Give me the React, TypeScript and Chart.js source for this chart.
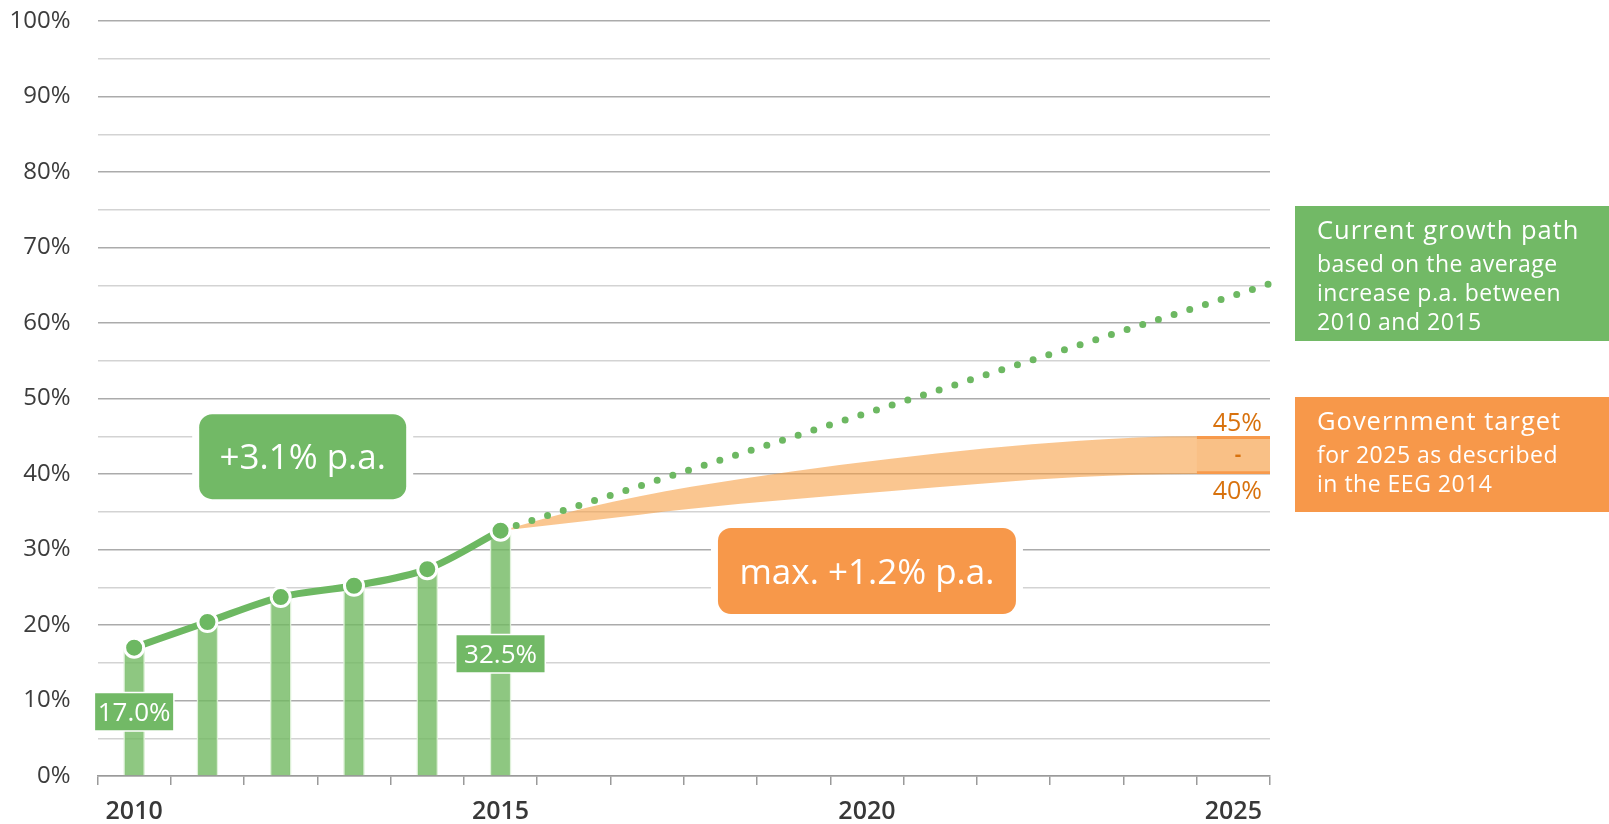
import React, { useEffect, useRef } from 'react';
import { Chart, registerables } from 'chart.js';

Chart.register(...registerables);

// ---------- data ----------
const years = ['2010', '2011', '2012', '2013', '2014', '2015', '2016', '2017', '2018', '2019', '2020', '2021', '2022', '2023', '2024', '2025'];
const shareValues = [17.0, 20.4, 23.7, 25.2, 27.4, 32.5];
const shareLabels = ['17.0%', '32.5%'];
const projectionYears = [2015, 2025.5];
const projectionValues = [32.5, 65.2];
const bandYears = [2015, 2016.2, 2017.6, 2020.3, 2022.9, 2024.5, 2025.5];
const bandUpperValues = [32.5, 35.6, 38.3, 42.0, 44.4, 45.0, 45.0];
const bandLowerValues = [32.5, 33.8, 35.4, 37.7, 39.6, 40.0, 40.0];
const targetRange = [40, 45];
const targetLabels = ['45%', '-', '40%'];
const growthText = '+3.1% p.a.';
const targetGrowthText = 'max. +1.2% p.a.';
const legendGreenLines = ['Current growth path', 'based on the average', 'increase p.a. between', '2010 and 2015'];
const legendOrangeLines = ['Government target', 'for 2025 as described', 'in the EEG 2014'];

// ---------- styles ----------
const FONT = "'Open Sans', 'DejaVu Sans', sans-serif";
const GREEN = '#6db862';
const GREEN_BOX = '#72b966';
const ORANGE = '#f7984a';
const ORANGE_TEXT = '#d8720e';

function roundRectPath(ctx: CanvasRenderingContext2D, x: number, y: number, w: number, h: number, r: number) {
  const rr = Math.min(r, w / 2, h / 2);
  ctx.beginPath();
  ctx.moveTo(x + rr, y);
  ctx.lineTo(x + w - rr, y);
  ctx.arcTo(x + w, y, x + w, y + rr, rr);
  ctx.lineTo(x + w, y + h - rr);
  ctx.arcTo(x + w, y + h, x + w - rr, y + h, rr);
  ctx.lineTo(x + rr, y + h);
  ctx.arcTo(x, y + h, x, y + h - rr, rr);
  ctx.lineTo(x, y + rr);
  ctx.arcTo(x, y, x + rr, y, rr);
  ctx.closePath();
}

// badge layout (centre in data units, size in px)
const badges = [
  { text: growthText, x: 2012.3, y: 42.3, w: 207, h: 85, r: 13, halo: 7, color: GREEN_BOX, size: 35 },
  { text: targetGrowthText, x: 2020.0, y: 27.15, w: 298, h: 86, r: 13, halo: 7, color: ORANGE, size: 35 },
  { text: shareLabels[0], x: 2010.0, y: 8.5, w: 78, h: 37, r: 0, halo: 1.5, color: GREEN_BOX, size: 26 },
  { text: shareLabels[1], x: 2015.0, y: 16.2, w: 88, h: 37, r: 0, halo: 1.5, color: GREEN_BOX, size: 26 },
];

const annotationPlugin = {
  id: 'annotations',
  afterDatasetsDraw(chart: any) {
    const { ctx, scales, chartArea } = chart;
    const x2 = scales.x2;
    const y = scales.y;
    ctx.save();
    for (const b of badges) {
      const cx = x2.getPixelForValue(b.x);
      const cy = y.getPixelForValue(b.y);
      const left = cx - b.w / 2;
      const top = cy - b.h / 2;
      ctx.fillStyle = '#ffffff';
      roundRectPath(ctx, left - b.halo, top - b.halo, b.w + 2 * b.halo, b.h + 2 * b.halo, b.r ? b.r + b.halo : 0);
      ctx.fill();
      ctx.fillStyle = b.color;
      roundRectPath(ctx, left, top, b.w, b.h, b.r);
      ctx.fill();
      ctx.fillStyle = '#ffffff';
      ctx.font = `500 ${b.size}px ${FONT}`;
      ctx.textAlign = 'center';
      ctx.textBaseline = 'alphabetic';
      ctx.fillText(b.text, cx, cy + b.size * 0.36);
    }
    // target labels
    const yTop = y.getPixelForValue(targetRange[1]);
    const yBot = y.getPixelForValue(targetRange[0]);
    const xr = chartArea.right - 8;
    ctx.fillStyle = ORANGE_TEXT;
    ctx.font = `500 25px ${FONT}`;
    ctx.textAlign = 'right';
    ctx.fillText(targetLabels[0], xr, yTop - 5);
    ctx.fillText(targetLabels[2], xr, yBot + 25);
    ctx.textAlign = 'center';
    ctx.font = `bold 20px ${FONT}`;
    ctx.fillText(targetLabels[1], xr - 24, (yTop + yBot) / 2 + 6);
    ctx.restore();
  },
  afterDraw(chart: any) {
    const { ctx, chartArea, width } = chart;
    const left = chartArea.right + 25;
    const boxW = width - left;
    const textX = left + 22;
    const drawBox = (top: number, h: number, color: string, lines: string[]) => {
      ctx.fillStyle = color;
      ctx.fillRect(left, top, boxW, h);
      ctx.fillStyle = '#ffffff';
      ctx.textAlign = 'left';
      ctx.textBaseline = 'alphabetic';
      const offs = [32.5, 66, 94.5, 123.5];
      lines.forEach((t, i) => {
        ctx.font = i === 0 ? `500 25.5px ${FONT}` : `500 23px ${FONT}`;
        (ctx as any).letterSpacing = i === 0 ? '1px' : '0.5px';
        ctx.fillText(t, textX, top + offs[i]);
      });
      (ctx as any).letterSpacing = '0px';
    };
    ctx.save();
    drawBox(206, 135, GREEN_BOX, legendGreenLines);
    drawBox(397, 115, ORANGE, legendOrangeLines);
    ctx.restore();
  },
};

export default function App() {
  const ref = useRef<HTMLCanvasElement | null>(null);

  useEffect(() => {
    if (!ref.current) return;
    const barData = years.map((_, i) => (i < shareValues.length ? shareValues[i] : null));
    const targetData = years.map((_, i) => (i === years.length - 1 ? targetRange : null));
    const projData = projectionYears.map((x, i) => ({ x, y: projectionValues[i] }));
    const upperData = bandYears.map((x, i) => ({ x, y: bandUpperValues[i] }));
    const lowerData = bandYears.map((x, i) => ({ x, y: bandLowerValues[i] }));

    const chart = new Chart(ref.current, {
      type: 'bar',
      data: {
        labels: years,
        datasets: [
          {
            type: 'line',
            data: shareValues,
            borderColor: GREEN,
            borderWidth: 7,
            pointRadius: 9.5,
            pointBackgroundColor: GREEN,
            pointBorderColor: '#ffffff',
            pointBorderWidth: 3,
            cubicInterpolationMode: 'monotone',
            fill: false,
            order: 0,
          } as any,
          {
            type: 'line',
            xAxisID: 'x2',
            data: projData,
            borderColor: GREEN,
            borderWidth: 7,
            borderDash: [0, 16.45],
            borderCapStyle: 'round',
            pointRadius: 0,
            fill: false,
            clip: 6,
            order: 1,
          } as any,
          {
            type: 'bar',
            data: targetData,
            grouped: false,
            barPercentage: 1,
            categoryPercentage: 1,
            backgroundColor: 'rgba(247,140,50,0.10)',
            borderColor: '#f79a4c',
            borderWidth: { top: 2.5, bottom: 2.5, left: 0, right: 0 },
            borderSkipped: false,
            order: 2,
          } as any,
          {
            type: 'line',
            xAxisID: 'x2',
            data: upperData,
            borderWidth: 0,
            borderColor: 'rgba(0,0,0,0)',
            pointRadius: 0,
            cubicInterpolationMode: 'monotone',
            fill: '+1',
            backgroundColor: 'rgba(246,160,70,0.6)',
            order: 3,
          } as any,
          {
            type: 'line',
            xAxisID: 'x2',
            data: lowerData,
            borderWidth: 0,
            borderColor: 'rgba(0,0,0,0)',
            pointRadius: 0,
            cubicInterpolationMode: 'monotone',
            fill: false,
            order: 4,
          } as any,
          {
            type: 'bar',
            data: barData,
            grouped: false,
            barThickness: 21,
            backgroundColor: 'rgba(114,185,98,0.8)',
            borderColor: 'rgba(220,240,214,0.9)',
            borderWidth: { left: 1.5, right: 1.5, top: 0, bottom: 0 },
            borderSkipped: false,
            order: 5,
          } as any,
        ],
      },
      options: {
        responsive: false,
        animation: false,
        devicePixelRatio: 1,
        events: [],
        layout: { padding: { top: 21, right: 339, bottom: 0, left: 0 } },
        plugins: {
          legend: { display: false },
          tooltip: { enabled: false },
        },
        scales: {
          x: {
            type: 'category',
            offset: true,
            afterFit: (s: any) => {
              s.height = 48;
            },
            grid: {
              offset: true,
              drawOnChartArea: false,
              drawTicks: true,
              tickLength: 9,
              color: '#9a9a9a',
              lineWidth: 1.5,
            },
            border: { display: true, color: '#9a9a9a', width: 1.5 },
            ticks: {
              autoSkip: false,
              maxRotation: 0,
              padding: 12,
              color: '#383838',
              font: { family: FONT, size: 25, weight: '600' },
              callback: function (this: any, value: any) {
                const l = this.getLabelForValue(value);
                return Number(l) % 5 === 0 ? l : '';
              },
            },
          },
          x2: {
            type: 'linear',
            display: false,
            offset: false,
            grid: { offset: false },
            min: 2009.5,
            max: 2025.5,
          },
          y: {
            min: 0,
            max: 100,
            afterFit: (s: any) => {
              s.width = 97.5;
              s.paddingTop = 0;
              s.paddingBottom = 0;
            },
            grid: {
              drawTicks: false,
              lineWidth: 1.5,
              color: (c: any) => (c.tick && c.tick.value % 10 === 0 ? '#ababab' : '#d3d3d3'),
            },
            border: { display: false },
            ticks: {
              stepSize: 5,
              padding: 27,
              color: '#3c3c3c',
              font: { family: FONT, size: 24, weight: '500' },
              callback: (v: any) => (Number(v) % 10 === 0 ? `${v}%` : ''),
            },
          },
        },
      } as any,
      plugins: [annotationPlugin],
    });
    return () => chart.destroy();
  }, []);

  return (
    <div style={{ position: 'fixed', left: 0, top: 0, width: '1609px', height: '824px', background: '#ffffff' }}>
      <canvas ref={ref} width={1609} height={824} style={{ display: 'block' }} />
    </div>
  );
}
